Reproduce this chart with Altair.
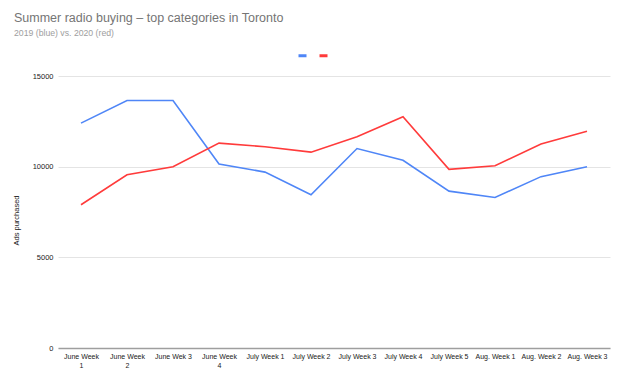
import altair as alt
import pandas as pd

categories = ["June Week 1", "June Week 2", "June Wek 3", "June Week 4", "July Week 1",
              "July Week 2", "July Week 3", "July Week 4", "July Week 5", "Aug. Week 1",
              "Aug. Week 2", "Aug. Week 3"]
values_2019 = [12400, 13650, 13650, 10150, 9700, 8450, 11000, 10350, 8650, 8300, 9450, 10000]
values_2020 = [7900, 9550, 10000, 11300, 11100, 10800, 11650, 12750, 9850, 10050, 11250, 11950]
series = ["2019", "2020"]
colors = ["#4f86f7", "#ff3b3b"]
y_ticks = [0, 5000, 10000, 15000]

rows = []
for i, c in enumerate(categories):
    rows.append({"week": c, "series": series[0], "ads": values_2019[i], "order": i})
    rows.append({"week": c, "series": series[1], "ads": values_2020[i], "order": i})
df = pd.DataFrame(rows)

wrap_expr = ("indexof(['June Week 1','June Week 2','June Week 4'], datum.label) >= 0"
             " ? [slice(datum.label,0,9), slice(datum.label,10)] : datum.label")

chart = alt.Chart(df).mark_line(strokeWidth=1.6).encode(
    x=alt.X("week:N", sort=categories, scale=alt.Scale(padding=0.5),
            axis=alt.Axis(title=None, labelAngle=0, labelExpr=wrap_expr, labelFontSize=7,
                          labelColor="#222222", ticks=False, domain=True,
                          domainColor="#9e9e9e", domainWidth=1.5, labelPadding=4,
                          labelFont="Liberation Sans", grid=False, labelLimit=70,
                          labelLineHeight=9)),
    y=alt.Y("ads:Q", scale=alt.Scale(domain=[0, 15000], nice=False),
            axis=alt.Axis(values=y_ticks, format="d", title="Ads purchased", titleFontSize=7.5,
                          titleFontWeight="normal", titleColor="#222222",
                          titleFont="Liberation Sans", titleX=-38, titleY=144,
                          labelFontSize=7.5, labelColor="#222222", labelFont="Liberation Sans",
                          ticks=False, domain=False, labelPadding=5,
                          gridColor="#e4e4e4", gridWidth=1)),
    color=alt.Color("series:N", scale=alt.Scale(domain=series, range=colors),
                    legend=alt.Legend(orient="none", legendX=239, legendY=-26,
                                      direction="horizontal", title=None,
                                      symbolType="stroke", symbolSize=64,
                                      symbolStrokeWidth=3, labelExpr="''",
                                      labelOffset=0, labelFontSize=1, columnPadding=0,
                                      padding=0)),
    detail="series:N",
    order="order:Q",
).properties(
    width=552,
    height=272,
    title=alt.TitleParams(
        text="Summer radio buying – top categories in Toronto",
        subtitle="2019 (blue) vs. 2020 (red)",
        anchor="start", frame="group", dx=-44, offset=12,
        font="Liberation Sans", fontSize=12.5, fontWeight="normal", color="#757575",
        subtitleFont="Liberation Sans", subtitleFontSize=8.7, subtitleColor="#9e9e9e",
        subtitlePadding=5,
    ),
    autosize=alt.AutoSizeParams(type="none"),
    padding={"left": 50, "top": 68, "right": 4, "bottom": 29},
).configure_view(stroke=None)

chart.save("out.html", embed_options={"renderer": "svg", "actions": False})
